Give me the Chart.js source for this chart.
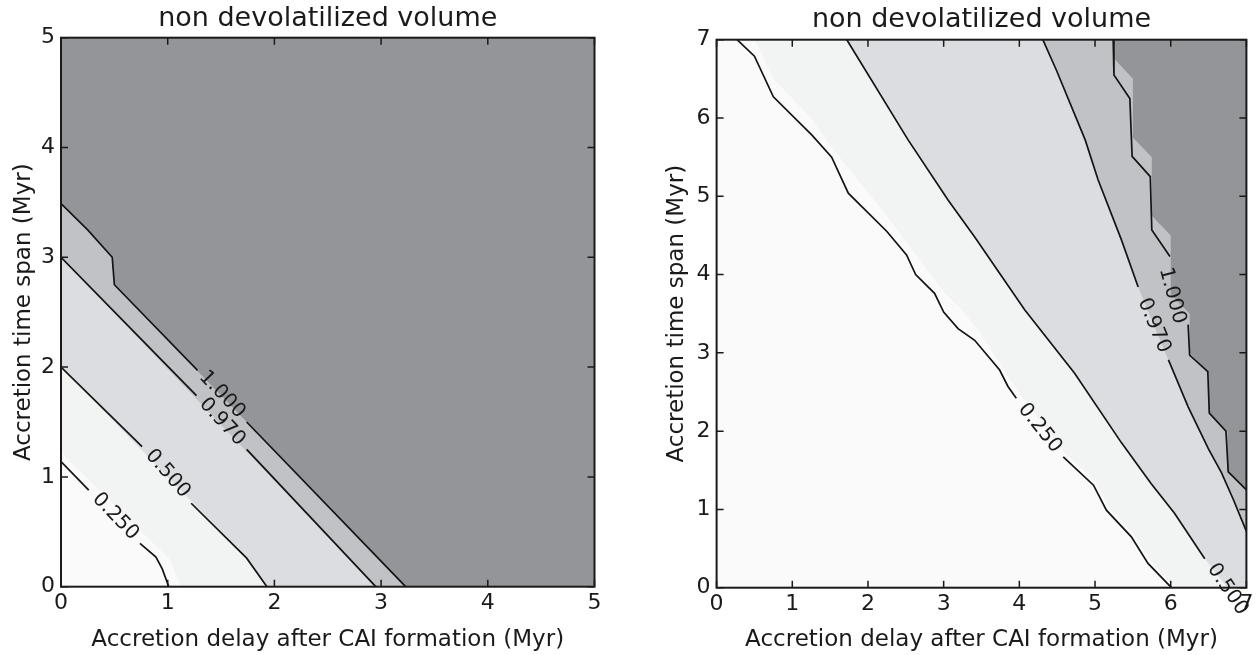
<!DOCTYPE html>
<html><head><meta charset="utf-8">
<script src="https://cdn.jsdelivr.net/npm/chart.js@4/dist/chart.umd.min.js"></script>
<style>
html,body{margin:0;padding:0;background:#fff;width:1257px;height:655px;overflow:hidden}
.wrap{position:absolute;top:0;height:655px}
canvas{display:block}
</style></head><body>
<div class="wrap" style="left:0;width:630px"><canvas id="c1" width="630" height="655"></canvas></div>
<div class="wrap" style="left:630px;width:627px"><canvas id="c2" width="627" height="655"></canvas></div>
<script>
// ---------------- DATA ----------------
const titleText = 'non devolatilized volume';
const xTitle = 'Accretion delay after CAI formation (Myr)';
const yTitle = 'Accretion time span (Myr)';
const levelLabels = ['0.250', '0.500', '0.970', '1.000'];
const fillColors = ['#fafafa', '#f2f3f3', '#dcdde0', '#c1c2c5', '#949599'];

// left panel (axes 0..5)
const leftMax = 5;
const leftFill025 = [[0,1.22],[1.02,0.25],[1.12,0]];
const leftFill050 = [[0,2.0],[1.74,0.26],[1.93,0]];
const leftFill097 = [[0,3.0],[2.95,0]];
const leftFill100 = [[0,3.49],[0.25,3.25],[0.48,3.0],[0.5,2.75],[3.23,0]];
const leftLine025 = [[0,1.14],[0.26,0.88],null,[0.74,0.395],[0.89,0.27],[0.95,0.16],[1.01,0]];
const leftLine050 = [[0,2.0],[0.76,1.275],null,[1.22,0.76],[1.74,0.26],[1.93,0]];
const leftLine097 = [[0,3.0],[1.27,1.74],null,[1.74,1.25],[2.95,0]];
const leftLine100 = [[0,3.49],[0.25,3.25],[0.48,3.0],[0.5,2.75],[1.28,1.97],null,[1.74,1.5],[3.23,0]];
const leftLabelAt = [[0.51,0.64],[1.0,1.03],[1.51,1.5],[1.51,1.75]];

// right panel (axes 0..7)
const rightMax = 7;
const rightFill025 = [[0.51,7],[0.75,6.5],[1.25,6.0],[1.5,5.65],[1.75,5.35],[2.25,4.75],[2.5,4.42],[2.75,4.1],[3.0,3.78],[3.24,3.55],[3.45,3.3],[3.75,2.85],[4.0,2.48],[4.6,1.72],[5.0,1.36],[5.18,1.03],[5.5,0.7],[5.73,0.35],[6.06,0]];
const rightFill050 = [[1.72,7],[2.53,5.72],[3.06,4.95],[3.41,4.48],[4.07,3.55],[4.73,2.74],[5.35,1.85],[5.74,1.33],[6.05,0.95],[6.45,0.37],[6.75,0]];
const rightFill097 = [[4.31,7],[4.49,6.61],[4.87,5.72],[5.04,5.21],[5.35,4.44],[5.57,3.84],[5.77,3.37],[5.97,2.91],[6.23,2.31],[6.5,1.77],[6.67,1.47],[6.83,1.12],[7,0.72]];
const rightFill100 = [[5.26,7],[5.26,6.75],[5.5,6.5],[5.5,5.75],[5.75,5.5],[5.75,4.75],[6.0,4.5],[6.0,3.75],[6.25,3.5],[6.25,3.0],[6.5,2.75],[6.5,2.25],[6.75,2.0],[6.75,1.5],[7,1.25]];
const rightLine025 = [[0.27,7],[0.5,6.79],[0.75,6.27],[1.26,5.78],[1.52,5.5],[1.74,5.04],[2.25,4.55],[2.51,4.25],[2.63,4.0],[2.88,3.76],[3.0,3.52],[3.19,3.31],[3.41,3.16],[3.74,2.78],[3.85,2.57],[3.96,2.42],null,[4.58,1.67],[4.98,1.31],[5.15,0.99],[5.48,0.65],[5.7,0.31],[6.01,0]];
const rightLine050 = [[1.72,7],[2.53,5.72],[3.06,4.95],[3.41,4.48],[4.07,3.55],[4.73,2.74],[5.35,1.85],[5.74,1.33],[6.05,0.95],[6.45,0.37],null];
const rightLine097 = [[4.31,7],[4.49,6.61],[4.87,5.72],[5.04,5.21],[5.35,4.44],[5.57,3.84],null,[5.97,2.91],[6.23,2.31],[6.5,1.77],[6.67,1.47],[6.83,1.12],[7,0.72]];
const rightLine100 = [[5.24,7],[5.25,6.55],[5.46,6.25],[5.49,5.51],[5.73,5.25],[5.75,4.57],[5.99,4.23],null,[6.23,3.36],[6.25,2.97],[6.49,2.76],[6.51,2.23],[6.73,2.0],[6.76,1.48],[7,1.25]];
const rightLabelAt = [[4.27,2.04],[6.75,-0.02],[5.78,3.35],[6.02,3.73]];

// ---------------- BUILD ----------------
const FONT = 'DejaVu Sans';
const TXT = '#1a1a1a';
Chart.defaults.font.family = FONT;
Chart.defaults.color = TXT;

function closeRegion(boundary, max) {
  const pts = boundary.map(p => ({x: p[0], y: p[1]}));
  const last = boundary[boundary.length - 1];
  if (last[1] === 0) pts.push({x: max, y: 0});
  pts.push({x: max, y: max});
  if (boundary[0][0] === 0) pts.push({x: 0, y: max});
  return pts;
}
function linePts(arr) {
  const out = [];
  arr.forEach((p, i) => {
    if (p === null) { const prev = arr[i - 1]; out.push({x: prev[0], y: null}); }
    else out.push({x: p[0], y: p[1]});
  });
  return out;
}

const decor = {
  id: 'decor',
  beforeDatasetsDraw(chart, args, o) {
    const {ctx, chartArea: a} = chart;
    ctx.save(); ctx.fillStyle = o.bg; ctx.fillRect(a.left, a.top, a.width, a.height); ctx.restore();
  },
  afterDatasetsDraw(chart) {
    const {ctx, chartArea: a, scales: {x, y}} = chart;
    ctx.save();
    ctx.strokeStyle = '#1a1a1a'; ctx.lineWidth = 1.5;
    ctx.beginPath();
    x.ticks.forEach(t => { const p = x.getPixelForValue(t.value);
      ctx.moveTo(p, a.bottom); ctx.lineTo(p, a.bottom - 7); ctx.moveTo(p, a.top); ctx.lineTo(p, a.top + 7); });
    y.ticks.forEach(t => { const p = y.getPixelForValue(t.value);
      ctx.moveTo(a.left, p); ctx.lineTo(a.left + 7, p); ctx.moveTo(a.right, p); ctx.lineTo(a.right - 7, p); });
    ctx.stroke();
    ctx.lineWidth = 2; ctx.strokeRect(a.left, a.top, a.width, a.height);
    ctx.restore();
  },
  afterDraw(chart, args, o) {
    const {ctx, scales: {x, y}} = chart;
    ctx.save();
    ctx.fillStyle = TXT; ctx.font = '20px "' + FONT + '"';
    ctx.textAlign = 'center'; ctx.textBaseline = 'middle';
    o.lines.forEach((ln, i) => {
      const k = ln.indexOf(null);
      let a = ln[k - 1], b = ln[k + 1];
      if (!b) { a = ln[k - 2]; b = ln[k - 1]; }
      let ang = Math.atan2(y.getPixelForValue(b[1]) - y.getPixelForValue(a[1]), x.getPixelForValue(b[0]) - x.getPixelForValue(a[0]));
      if (ang > Math.PI / 2) ang -= Math.PI; if (ang < -Math.PI / 2) ang += Math.PI;
      const at = o.labelAt[i];
      ctx.save();
      ctx.translate(x.getPixelForValue(at[0]), y.getPixelForValue(at[1]));
      ctx.rotate(ang);
      ctx.fillText(o.labels[i], 0, 0);
      ctx.restore();
    });
    ctx.restore();
  }
};

function makeChart(id, max, fills, lines, labelAt, geo) {
  const datasets = [];
  fills.forEach((f, i) => datasets.push({
    data: closeRegion(f, max), showLine: true, fill: 'shape',
    backgroundColor: fillColors[i + 1], borderColor: 'rgba(0,0,0,0)', borderWidth: 0,
    pointRadius: 0, order: 50 - i
  }));
  lines.forEach(l => datasets.push({
    data: linePts(l), showLine: true, fill: false, spanGaps: false,
    borderColor: '#141414', borderWidth: 1.7, pointRadius: 0, order: 1
  }));
  const axis = (isX) => ({
    type: 'linear', min: 0, max: max,
    ticks: {stepSize: 1, font: {size: 22}, color: TXT, padding: isX ? 3.6 : 6, maxRotation: 0, autoSkip: false},
    grid: {display: false, drawTicks: false}, border: {display: false},
    title: {display: true, text: isX ? xTitle : yTitle, font: {size: 23}, color: TXT,
      padding: isX ? {top: 0, bottom: 1.2} : {top: geo.yTitlePad, bottom: 0}},
    afterFit: isX ? (s => { s.height = geo.xH; }) : (s => { s.width = geo.yW; })
  });
  return new Chart(document.getElementById(id), {
    type: 'scatter',
    data: {datasets},
    options: {
      responsive: false, animation: false, events: [],
      layout: {padding: {left: 0, right: geo.padR, top: 0, bottom: 0}},
      plugins: {
        legend: {display: false}, tooltip: {enabled: false},
        title: {display: true, text: titleText, fullSize: false, color: TXT,
          font: {size: 27, weight: 'normal'}, padding: {top: geo.tTop, bottom: geo.tBot}},
        decor: {bg: fillColors[0], lines, labels: levelLabels, labelAt}
      },
      scales: {x: axis(true), y: axis(false)}
    },
    plugins: [decor]
  });
}

makeChart('c1', leftMax, [leftFill025, leftFill050, leftFill097, leftFill100],
  [leftLine025, leftLine050, leftLine097, leftLine100], leftLabelAt,
  {yW: 61, xH: 68.3, padR: 35.5, tTop: 2.8, tBot: 2.5, yTitlePad: 10});
makeChart('c2', rightMax, [rightFill025, rightFill050, rightFill097, rightFill100],
  [rightLine025, rightLine050, rightLine097, rightLine100], rightLabelAt,
  {yW: 86.6, xH: 67.3, padR: 10.5, tTop: 3.8, tBot: 3.5, yTitlePad: 33});
</script>
</body></html>
